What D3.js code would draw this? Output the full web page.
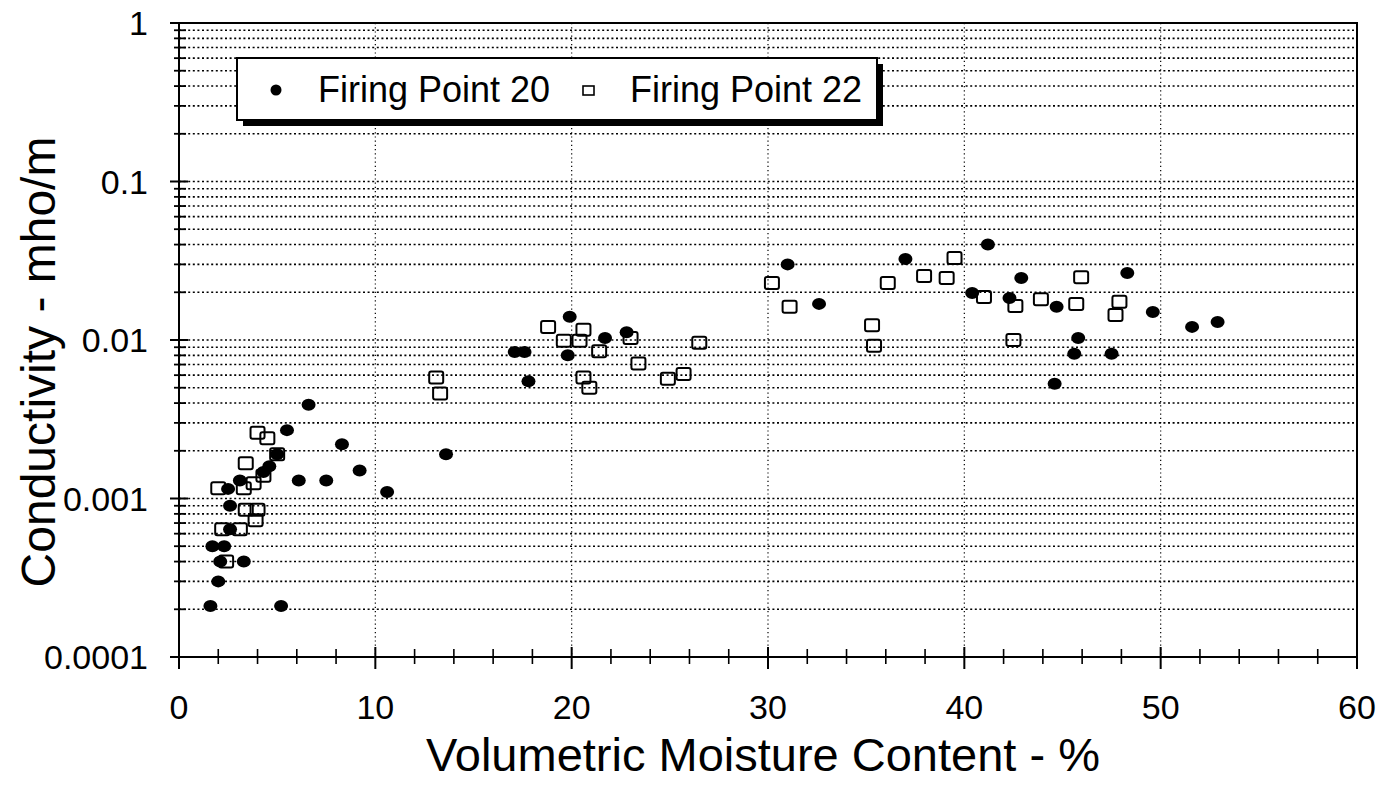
<!DOCTYPE html>
<html><head><meta charset="utf-8">
<script src="https://cdn.jsdelivr.net/npm/d3@7"></script>
<style>body{margin:0;background:#fff}svg{display:block}</style>
</head><body>
<svg id="c" width="1388" height="787"></svg>
<script>
const fp20X = [1.6,5.2,2.0,2.1,3.3,1.7,2.3,2.6,2.6,2.5,3.1,4.3,4.6,5.0,5.5,6.1,7.5,6.6,8.3,9.2,10.6,13.6,17.1,17.6,17.8,19.8,19.9,21.7,22.8,31.0,32.6,37.0,41.2,40.4,42.3,42.9,44.7,44.6,45.8,45.6,47.5,48.3,49.6,51.6,52.9];
const fp20Y = [0.00021,0.00021,0.0003,0.0004,0.0004,0.0005,0.0005,0.00064,0.0009,0.00115,0.0013,0.00147,0.0016,0.0019,0.0027,0.0013,0.0013,0.0039,0.0022,0.0015,0.0011,0.0019,0.0084,0.0084,0.0055,0.008,0.014,0.0103,0.0112,0.030,0.0169,0.0324,0.040,0.0198,0.0184,0.0246,0.0162,0.0053,0.0103,0.0082,0.0082,0.0265,0.015,0.0121,0.013];
const fp22X = [2.0,3.3,3.8,4.3,3.4,5.0,4.0,4.5,3.4,4.0,3.9,2.2,3.1,2.4,13.1,13.3,18.8,19.6,20.4,20.6,20.6,20.9,21.4,23.0,23.4,24.9,25.7,26.5,30.2,31.1,35.3,35.4,36.1,37.95,39.1,39.5,41.0,42.5,42.6,43.9,45.7,45.95,47.7,47.9];
const fp22Y = [0.00116,0.00116,0.00125,0.00139,0.00167,0.0019,0.0026,0.0024,0.00085,0.00085,0.00073,0.00064,0.00064,0.0004,0.0058,0.0046,0.0121,0.0099,0.0099,0.0116,0.0058,0.005,0.0085,0.0103,0.0071,0.0057,0.0061,0.0096,0.0229,0.0162,0.0124,0.0092,0.0229,0.0253,0.0246,0.0329,0.0187,0.0100,0.0164,0.0181,0.0169,0.0249,0.0144,0.0174];
const xTicks = [0,10,20,30,40,50,60];
const yTicks = [0.0001,0.001,0.01,0.1,1];
const yTickLabels = ["0.0001","0.001","0.01","0.1","1"];
const seriesNames = ["Firing Point 20","Firing Point 22"];
const xTitle = "Volumetric Moisture Content - %";
const yTitle = "Conductivity - mho/m";

const svg = d3.select("#c");
const L=179,R=1357,T=23,B=657;
const x = d3.scaleLinear().domain([0,60]).range([L,R]);
const y = d3.scaleLog().domain([0.0001,1]).range([B,T]);
const font = "'Liberation Sans', Arial, sans-serif";

const minorY = [];
for (let k=-4;k<0;k++) for (let m=2;m<=9;m++) minorY.push(m*Math.pow(10,k));
const gridY = minorY.concat([0.001,0.01,0.1]);

const g = svg.append("g");
g.selectAll("line.hg").data(gridY).join("line")
  .attr("x1",L).attr("x2",R).attr("y1",d=>y(d)).attr("y2",d=>y(d))
  .attr("stroke","#000").attr("stroke-width",1.6).attr("stroke-dasharray","2,2.6");
g.selectAll("line.vg").data([10,20,30,40,50]).join("line")
  .attr("x1",d=>x(d)).attr("x2",d=>x(d)).attr("y1",T).attr("y2",B)
  .attr("stroke","#000").attr("stroke-width",1.2).attr("stroke-dasharray","1.2,3");

svg.append("rect").attr("x",L).attr("y",T).attr("width",R-L).attr("height",B-T)
  .attr("fill","none").attr("stroke","#000").attr("stroke-width",2);

svg.selectAll("line.ymin").data(minorY).join("line")
  .attr("x1",L-5).attr("x2",L+7).attr("y1",d=>y(d)).attr("y2",d=>y(d))
  .attr("stroke","#000").attr("stroke-width",1.8);
svg.selectAll("line.ymaj").data(yTicks).join("line")
  .attr("x1",L-9).attr("x2",L+9).attr("y1",d=>y(d)).attr("y2",d=>y(d))
  .attr("stroke","#000").attr("stroke-width",2);
svg.selectAll("text.yl").data(yTicks).join("text")
  .attr("x",L-31).attr("y",d=>y(d)).attr("dy","0.36em")
  .attr("text-anchor","end").attr("font-family",font).attr("font-size",34)
  .text((d,i)=>yTickLabels[i]);

const minorX = d3.range(0,61,2).filter(v=>v%10!==0);
svg.selectAll("line.xmin").data(minorX).join("line")
  .attr("x1",d=>x(d)).attr("x2",d=>x(d)).attr("y1",B-8).attr("y2",B+7)
  .attr("stroke","#000").attr("stroke-width",1.6);
svg.selectAll("line.xmaj").data(xTicks).join("line")
  .attr("x1",d=>x(d)).attr("x2",d=>x(d)).attr("y1",B-10).attr("y2",B+12)
  .attr("stroke","#000").attr("stroke-width",2);
svg.selectAll("text.xl").data(xTicks).join("text")
  .attr("x",d=>x(d)).attr("y",B+62)
  .attr("text-anchor","middle").attr("font-family",font).attr("font-size",34)
  .text(d=>d);

svg.append("text").attr("x",763).attr("y",771).attr("text-anchor","middle")
  .attr("font-family",font).attr("font-size",47).text(xTitle);
svg.append("text").attr("transform","translate(55,362) rotate(-90)")
  .attr("text-anchor","middle").attr("font-family",font).attr("font-size",48).text(yTitle);

const d22 = fp22X.map((v,i)=>[v,fp22Y[i]]);
const d20 = fp20X.map((v,i)=>[v,fp20Y[i]]);
svg.selectAll("rect.s22").data(d22).join("rect")
  .attr("x",d=>x(d[0])-7).attr("y",d=>y(d[1])-6).attr("width",14).attr("height",12)
  .attr("rx",2).attr("fill","none").attr("stroke","#000").attr("stroke-width",2);
svg.selectAll("ellipse.s20").data(d20).join("ellipse")
  .attr("cx",d=>x(d[0])).attr("cy",d=>y(d[1])).attr("rx",7).attr("ry",6).attr("fill","#000");

const lg = svg.append("g");
lg.append("rect").attr("x",243).attr("y",64).attr("width",640).attr("height",62).attr("fill","#000");
lg.append("rect").attr("x",237).attr("y",58).attr("width",640).attr("height",62)
  .attr("fill","#fff").attr("stroke","#000").attr("stroke-width",2);
lg.append("circle").attr("cx",276).attr("cy",90).attr("r",5.5).attr("fill","#000");
lg.append("rect").attr("x",583).attr("y",86).attr("width",11).attr("height",9)
  .attr("fill","none").attr("stroke","#000").attr("stroke-width",1.6);
lg.append("text").attr("x",318).attr("y",102).attr("font-family",font).attr("font-size",36).text(seriesNames[0]);
lg.append("text").attr("x",630).attr("y",102).attr("font-family",font).attr("font-size",36).text(seriesNames[1]);
</script>
</body></html>
